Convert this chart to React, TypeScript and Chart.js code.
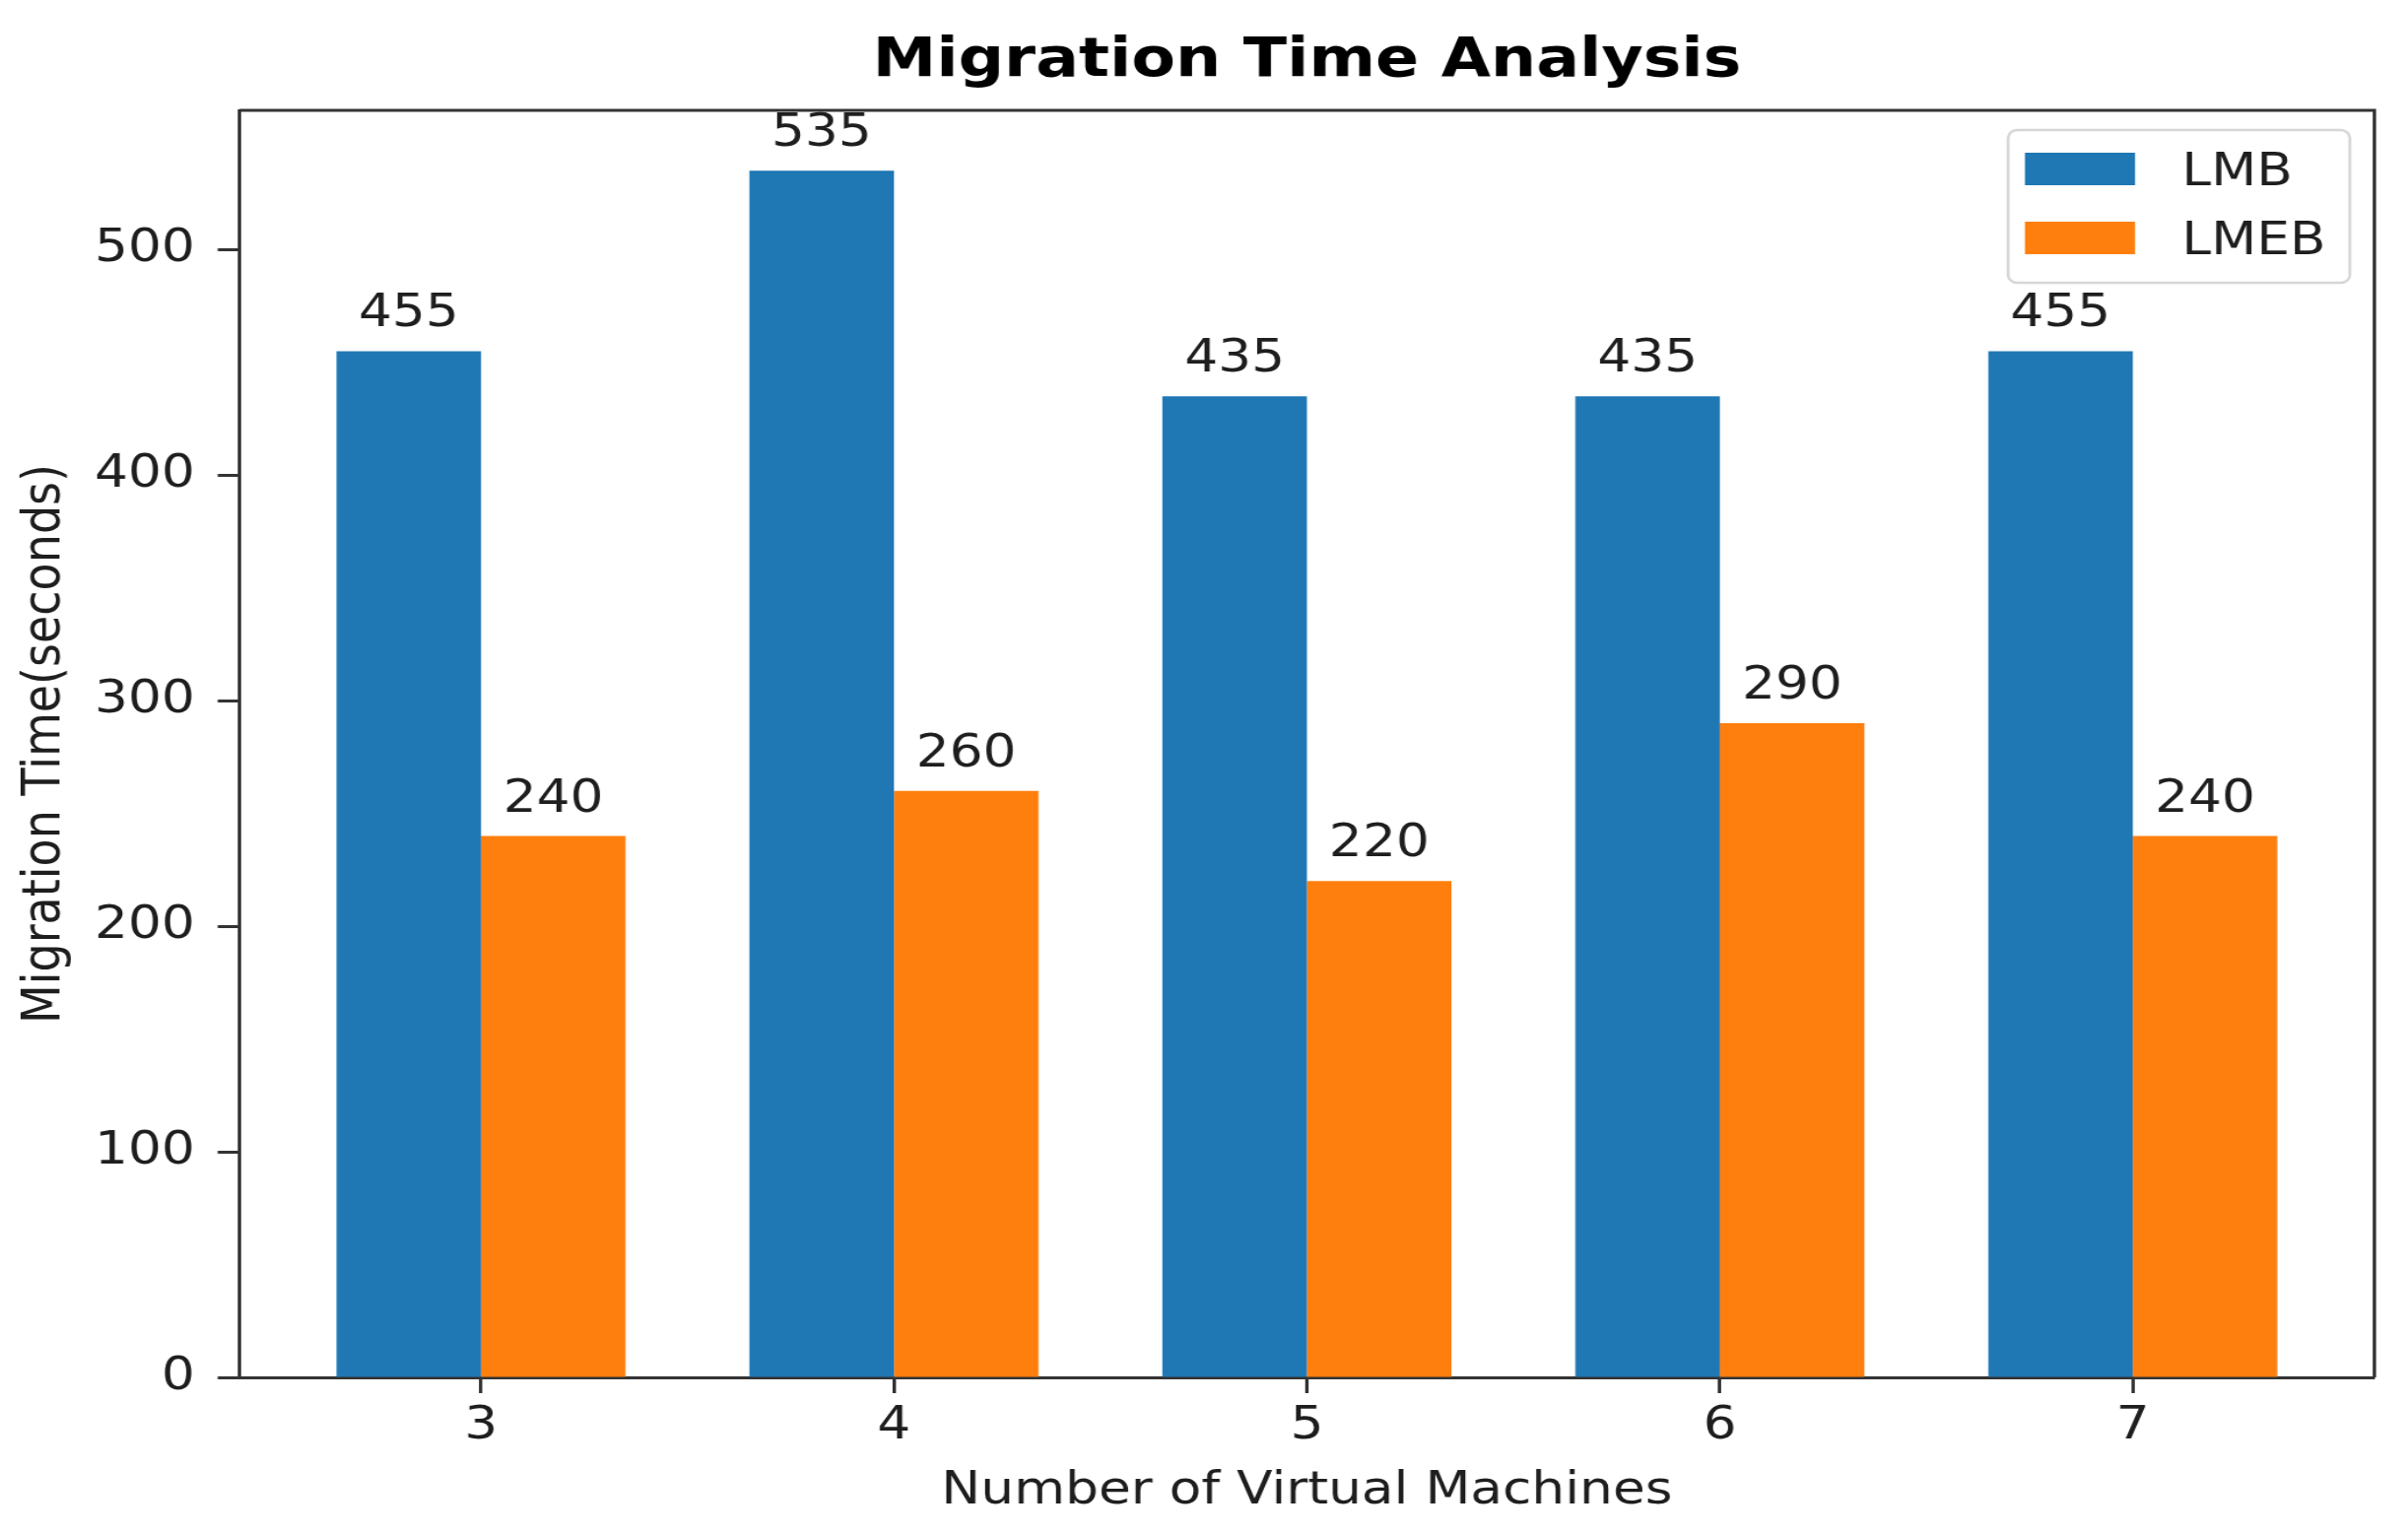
import React, { useEffect, useRef } from "react";
import { Chart, registerables } from "chart.js";

Chart.register(...registerables);

// ---- data ----
const categories = [3, 4, 5, 6, 7];
const lmbValues = [455, 535, 435, 435, 455];
const lmebValues = [240, 260, 220, 290, 240];
const seriesLabels = ["LMB", "LMEB"];
const seriesColors = ["#1f77b4", "#ff7f0e"];
const yTickValues = [0, 100, 200, 300, 400, 500];

const chartTitle = "Migration Time Analysis";
const xTitle = "Number of Virtual Machines";
const yTitle = "Migration Time(seconds)";

// ---- layout ----
const W = 2444;
const H = 1558;
const SX = 1.16; // horizontal stretch of the reference
const CW = Math.round(W / SX);
const FONT = "'DejaVu Sans', 'Liberation Sans', sans-serif";
const BAR_W = 0.35;
const SPINE = "#333333";
const TEXT = "#1e1e1e";

const allValues = [...lmbValues, ...lmebValues];
const yMax = Math.max(...allValues) * 1.05;
const xLo = Math.min(...categories) - BAR_W;
const xHi = Math.max(...categories) + BAR_W;
const xPad = (xHi - xLo) * 0.05;

const framePlugin = {
  id: "frame",
  afterDraw(chart: any) {
    const { ctx, chartArea: a } = chart;
    ctx.save();
    ctx.strokeStyle = SPINE;
    ctx.lineWidth = 3;
    ctx.beginPath();
    ctx.moveTo(a.left, a.top);
    ctx.lineTo(a.right, a.top);
    ctx.lineTo(a.right, a.bottom);
    ctx.stroke();
    ctx.restore();
  },
};

const valueLabelPlugin = {
  id: "valueLabels",
  afterDatasetsDraw(chart: any) {
    const ctx = chart.ctx;
    ctx.save();
    ctx.font = `46px ${FONT}`;
    ctx.fillStyle = TEXT;
    ctx.textAlign = "center";
    ctx.textBaseline = "alphabetic";
    chart.data.datasets.forEach((ds: any, di: number) => {
      const meta = chart.getDatasetMeta(di);
      meta.data.forEach((bar: any, i: number) => {
        const v = ds.data[i].y;
        ctx.fillText(String(v), bar.x, bar.y - 25);
      });
    });
    ctx.restore();
  },
};

const legendPlugin = {
  id: "boxLegend",
  afterDraw(chart: any) {
    const { ctx, chartArea: a } = chart;
    const boxW = 299;
    const boxH = 155;
    const x0 = a.right - 21.5 - boxW;
    const y0 = a.top + 20;
    ctx.save();
    ctx.fillStyle = "rgba(255,255,255,0.85)";
    ctx.strokeStyle = "#d6d6d6";
    ctx.lineWidth = 2.5;
    ctx.beginPath();
    (ctx as any).roundRect(x0, y0, boxW, boxH, 8);
    ctx.fill();
    ctx.stroke();
    chart.data.datasets.forEach((ds: any, i: number) => {
      const cy = y0 + 39.5 + i * 70;
      ctx.fillStyle = ds.backgroundColor;
      ctx.fillRect(x0 + 14.7, cy - 16.5, 96.4, 33);
      ctx.fillStyle = TEXT;
      ctx.font = `46px ${FONT}`;
      ctx.textAlign = "left";
      ctx.textBaseline = "alphabetic";
      ctx.fillText(ds.label, x0 + 152, cy + 16.5);
    });
    ctx.restore();
  },
};

export default function App() {
  const canvasRef = useRef<HTMLCanvasElement | null>(null);

  useEffect(() => {
    if (!canvasRef.current) return;
    const tickFont = { family: FONT, size: 46 };
    const series = [lmbValues, lmebValues];
    const chart = new Chart(canvasRef.current, {
      type: "bar",
      data: {
        datasets: series.map((vals, si) => ({
          label: seriesLabels[si],
          data: categories.map((c, i) => ({ x: c, y: vals[i] })),
          backgroundColor: seriesColors[si],
          borderWidth: 0,
          categoryPercentage: BAR_W * 2,
          barPercentage: 1.0,
        })),
      },
      options: {
        responsive: false,
        animation: false,
        devicePixelRatio: 1,
        layout: { padding: { left: 0, right: CW - 2410 / SX, top: 0, bottom: 0 } },
        plugins: {
          legend: { display: false },
          tooltip: { enabled: false },
          title: {
            display: true,
            text: chartTitle,
            fullSize: false,
            color: "#000",
            font: { family: FONT, size: 56, weight: "bold" },
            padding: { top: 29, bottom: 15.8 },
          },
        },
        scales: {
          x: {
            type: "linear",
            min: xLo - xPad,
            max: xHi + xPad,
            bounds: "data",
            offset: false,
            afterBuildTicks: (s: any) => {
              s.ticks = categories.map((v) => ({ value: v }));
            },
            afterFit: (s: any) => {
              s.height = H - 1398;
            },
            grid: {
              display: true,
              offset: false,
              drawOnChartArea: false,
              drawTicks: true,
              tickLength: 16,
              tickWidth: 3,
              tickColor: SPINE,
            },
            border: { display: true, color: SPINE, width: 3 },
            ticks: { font: tickFont, color: TEXT, padding: 6, maxRotation: 0, autoSkip: false },
            title: {
              display: true,
              text: xTitle,
              color: TEXT,
              font: tickFont,
              padding: { top: 0, bottom: 16 },
            },
          },
          y: {
            type: "linear",
            min: 0,
            max: yMax,
            bounds: "data",
            afterBuildTicks: (s: any) => {
              s.ticks = yTickValues.map((v) => ({ value: v }));
            },
            afterFit: (s: any) => {
              s.width = 243 / SX;
            },
            grid: {
              display: true,
              offset: false,
              drawOnChartArea: false,
              drawTicks: true,
              tickLength: 19,
              tickWidth: 3,
              tickColor: SPINE,
            },
            border: { display: true, color: SPINE, width: 3 },
            ticks: { font: tickFont, color: TEXT, padding: 20 },
            title: {
              display: true,
              text: yTitle,
              color: TEXT,
              font: tickFont,
              padding: { top: 12.4, bottom: 0 },
            },
          },
        },
      } as any,
      plugins: [framePlugin, valueLabelPlugin, legendPlugin],
    });
    return () => chart.destroy();
  }, []);

  return (
    <div style={{ position: "absolute", left: 0, top: 0, width: W, height: H, background: "#fff" }}>
      <canvas
        ref={canvasRef}
        width={CW}
        height={H}
        style={{ display: "block", width: `${W}px`, height: `${H}px` }}
      />
    </div>
  );
}
